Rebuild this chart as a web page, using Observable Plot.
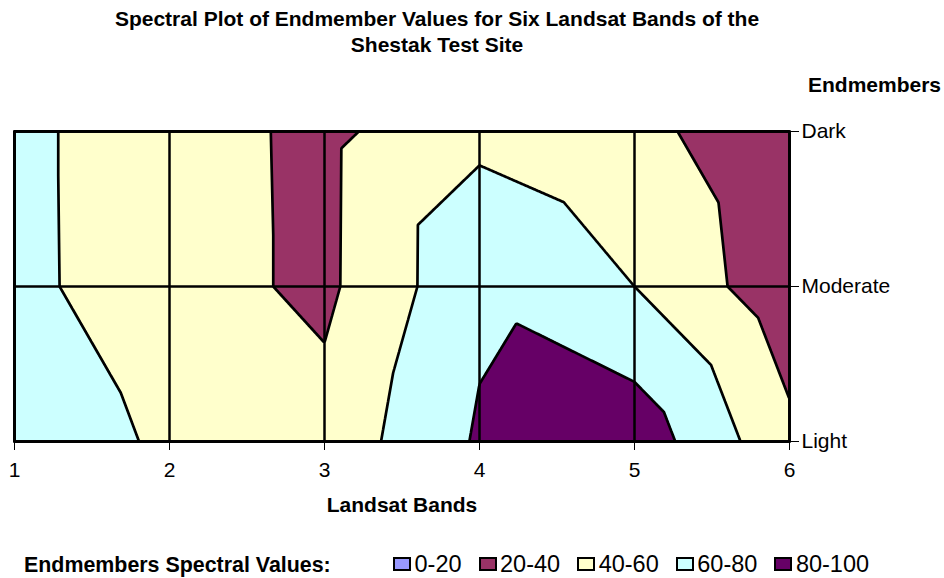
<!DOCTYPE html>
<html>
<head>
<meta charset="utf-8">
<script src="https://cdn.jsdelivr.net/npm/d3@7"></script>
<script src="https://cdn.jsdelivr.net/npm/@observablehq/plot@0.6"></script>
<style>
  body { margin: 0; background: #fff; font-family: Arial, "Liberation Sans", sans-serif; }
  #wrap { position: relative; width: 944px; height: 578px; overflow: hidden; background: #fff; }
  #wrap svg { position: absolute; left: 0; top: 0; }
  .t { position: absolute; color: #000; font-size: 21px; white-space: nowrap; line-height: 24px; }
  .b { font-weight: bold; }
  #legend { position: absolute; left: 393px; top: 552px; display: flex; align-items: center; height: 24px; }
  .item { display: flex; align-items: center; margin-right: 17px; font-size: 23.5px; line-height: 24px; }
  .sw { width: 14px; height: 10px; border: 2px solid #000; margin-right: 3.5px; }
</style>
</head>
<body>
<div id="wrap"></div>
<script>
// ---- data ----
const bands = [1, 2, 3, 4, 5, 6];
const endmembers = ["Dark", "Moderate", "Light"];
const darkValues     = [64.6, 48.3, 35.6, 55.5, 46.5, 23.1];
const moderateValues = [64.8, 48.3, 35.9, 76.1, 60.0, 26.7];
const lightValues    = [69.0, 57.8, 47.2, 82.3, 92.5, 45.0];
const classBreaks = [0, 20, 40, 60, 80];
const classLabels = ["0-20", "20-40", "40-60", "60-80", "80-100"];
const classColors = ["#9999FF", "#993366", "#FFFFCC", "#CCFFFF", "#660066"];
// triangulation of each grid cell as drawn by the surface chart (top row, bottom row)
const cellDiagonals = [["\\", "\\", "\\", "/", "/"], ["\\", "\\", "/", "\\", "/"]];

const series = [darkValues, moderateValues, lightValues];
const table = endmembers.flatMap((e, r) => bands.map((b, c) => ({band: b, row: r, v: series[r][c]})));

// Linear interpolation over triangles of the regular grid (like a surface chart)
function surfaceInterpolate(index, width, height, X, Y, V) {
  const idx = Array.from(index);
  const xs = Array.from(new Set(idx.map(i => X[i]))).sort((a, b) => a - b);
  const ys = Array.from(new Set(idx.map(i => Y[i]))).sort((a, b) => a - b);
  const grid = new Map();
  for (const i of idx) grid.set(xs.indexOf(X[i]) + "," + ys.indexOf(Y[i]), V[i]);
  const clamp = t => Math.max(0, Math.min(1, t));
  const out = new Float64Array(width * height);
  for (let py = 0; py < height; py++) {
    const y = py + 0.5;
    let r = 0; while (r < ys.length - 2 && y > ys[r + 1]) r++;
    const v = clamp((y - ys[r]) / (ys[r + 1] - ys[r]));
    for (let px = 0; px < width; px++) {
      const x = px + 0.5;
      let c = 0; while (c < xs.length - 2 && x > xs[c + 1]) c++;
      const u = clamp((x - xs[c]) / (xs[c + 1] - xs[c]));
      const a = grid.get(c + "," + r), b = grid.get((c + 1) + "," + r);
      const cc = grid.get(c + "," + (r + 1)), d = grid.get((c + 1) + "," + (r + 1));
      let val;
      if (cellDiagonals[r][c] === "\\") {
        val = u >= v ? a + u * (b - a) + v * (d - b) : a + v * (cc - a) + u * (d - cc);
      } else {
        val = u + v <= 1 ? a + u * (b - a) + v * (cc - a) : d + (1 - u) * (cc - d) + (1 - v) * (b - d);
      }
      out[py * width + px] = val;
    }
  }
  return out;
}

const chart = Plot.plot({
  width: 944,
  height: 578,
  marginTop: 131,
  marginBottom: 137,
  marginLeft: 14,
  marginRight: 155,
  style: {fontFamily: 'Arial, "Liberation Sans", sans-serif', fontSize: "21px", color: "#000", background: "transparent", overflow: "visible"},
  x: {domain: [1, 6], ticks: bands, tickFormat: d => String(d), tickSize: 9, tickPadding: 12, label: null},
  y: {domain: [0, 2], reverse: true, axis: "right", ticks: endmembers.map((e, i) => i), tickFormat: i => endmembers[i], tickSize: 9, tickPadding: 3, label: null},
  color: {type: "ordinal", domain: classBreaks, range: classColors},
  marks: [
    Plot.contour(table, {
      x: "band", y: "row", value: "v", fill: "value",
      thresholds: classBreaks, interpolate: surfaceInterpolate, pixelSize: 1,
      stroke: "black", strokeWidth: 2.7, strokeLinejoin: "miter"
    }),
    Plot.ruleX(bands, {stroke: "black", strokeWidth: 2.5}),
    Plot.ruleY(endmembers.map((e, i) => i), {stroke: "black", strokeWidth: 2.5}),
    Plot.frame({stroke: "black", strokeWidth: 2.5})
  ]
});

const wrap = document.getElementById("wrap");
wrap.appendChild(chart);

function addText(text, css, bold) {
  const d = document.createElement("div");
  d.className = "t" + (bold ? " b" : "");
  d.textContent = text;
  Object.assign(d.style, css);
  wrap.appendChild(d);
  return d;
}
const title = addText("", {left: "0px", top: "6px", width: "874px", textAlign: "center", lineHeight: "26px"}, true);
title.innerHTML = "Spectral Plot of Endmember Values for Six Landsat Bands of the<br>Shestak Test Site";
addText("Endmembers", {left: "808px", top: "73px"}, true);
addText("Landsat Bands", {left: "0px", width: "804px", textAlign: "center", top: "493px"}, true);
addText("Endmembers Spectral Values:", {left: "24px", top: "553px", fontSize: "21.4px"}, true);

const legend = document.createElement("div");
legend.id = "legend";
classLabels.forEach((lab, i) => {
  const it = document.createElement("div");
  it.className = "item";
  const sw = document.createElement("div");
  sw.className = "sw";
  sw.style.background = classColors[i];
  const tx = document.createElement("span");
  tx.textContent = lab;
  it.appendChild(sw);
  it.appendChild(tx);
  legend.appendChild(it);
});
wrap.appendChild(legend);
</script>
</body>
</html>
